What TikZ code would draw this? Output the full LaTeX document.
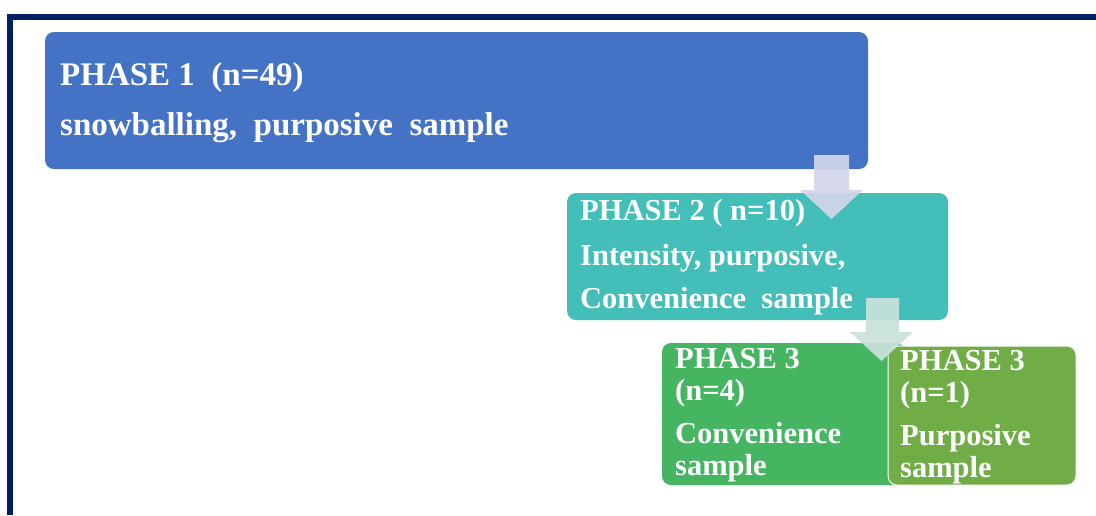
\documentclass[tikz,border=0pt]{standalone}
\usepackage{fontspec}
\setmainfont{Liberation Serif}
\begin{document}
\begin{tikzpicture}[x=1pt,y=-1pt,
  box/.style={rounded corners=9pt},
  txt/.style={anchor=base west,inner sep=0pt,text=white,font=\bfseries\fontsize{30.5}{36}\selectfont},
  bigtxt/.style={txt,font=\bfseries\fontsize{33}{40}\selectfont},
  blockarrow/.style={draw=none}]
\definecolor{navy}{HTML}{002060}
\definecolor{c1}{HTML}{4472C4}
\definecolor{c2}{HTML}{43BEB8}
\definecolor{c3}{HTML}{46B562}
\definecolor{c4}{HTML}{70AD47}
\definecolor{a1}{HTML}{D2D6EA}
\definecolor{a2}{HTML}{C8E2DA}
\useasboundingbox (0,0) rectangle (1096,515);
% frame
\fill[navy] (7,14) rectangle (1096,20);
\fill[navy] (7,14) rectangle (13,515);
% boxes
\fill[c1,box] (45,32) rectangle (868,169);
\fill[c2,box] (567,193) rectangle (948,320);
\fill[c3,box] (662,343) rectangle (905,485);
\filldraw[fill=c4,draw=white,line width=1pt,box] (888,346) rectangle (1076,485);
% texts
\node[bigtxt] (p1a) at (60,85) {PHASE 1\ \ (n=49)};
\node[bigtxt] (p1b) at (60,135) {snowballing,\ \ purposive\ \ sample};
\node[txt] (p2a) at (580,220) {PHASE 2 ( n=10)};
\node[txt] (p2b) at (580,265) {Intensity, purposive,};
\node[txt] (p2c) at (580,308) {Convenience\ \ sample};
\node[txt] (p3a) at (675,368) {PHASE 3};
\node[txt] (p3b) at (675,400) {(n=4)};
\node[txt] (p3c) at (675,443) {Convenience};
\node[txt] (p3d) at (675,475) {sample};
\node[txt] (p4a) at (900,370) {PHASE 3};
\node[txt] (p4b) at (900,402) {(n=1)};
\node[txt] (p4c) at (900,445) {Purposive};
\node[txt] (p4d) at (900,477) {sample};
% block arrows
\fill[a1,opacity=0.92] (814,155) -- (849,155) -- (849,190) -- (863,190) -- (831.5,219) -- (800,190) -- (814,190) -- cycle;
\fill[a2,opacity=0.92] (866,298) -- (899,298) -- (899,332) -- (913,332) -- (881.5,361) -- (850,332) -- (866,332) -- cycle;
\end{tikzpicture}
\end{document}
